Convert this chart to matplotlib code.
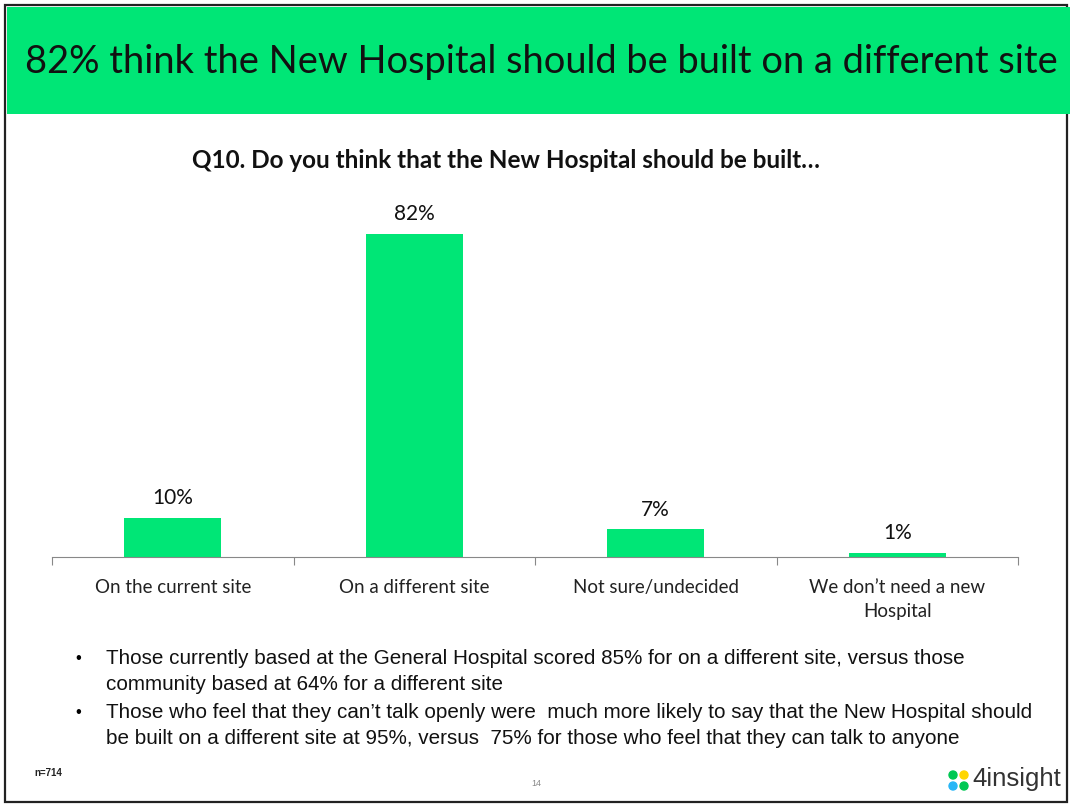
import matplotlib.pyplot as plt
from matplotlib.patches import Rectangle, Circle

categories = ["On the current site", "On a different site", "Not sure/undecided",
              "We don\u2019t need a new\nHospital"]
values = [10, 82, 7, 1]
value_labels = ["10%", "82%", "7%", "1%"]

headline = "82% think the New Hospital should be built on a different site"
question = "Q10. Do you think that the New Hospital should be built\u2026"
notes = [
    "Those currently based at the General Hospital scored 85% for on a different site, versus those\n"
    "community based at 64% for a different site",
    "Those who feel that they can\u2019t talk openly were  much more likely to say that the New Hospital should\n"
    "be built on a different site at 95%, versus  75% for those who feel that they can talk to anyone",
]

green = "#00E676"
W, H = 1070, 807

fig = plt.figure(figsize=(10.7, 8.07), dpi=100)
fig.patch.set_facecolor("white")

# slide frame and header band, in pixel-like figure coords
bg = fig.add_axes([0, 0, 1, 1])
bg.set_xlim(0, W)
bg.set_ylim(H, 0)
bg.axis("off")
bg.add_patch(Rectangle((5, 5), 1062, 797, fill=False, edgecolor="#222222", lw=1.6))
bg.add_patch(Rectangle((7, 7), 1063, 107, facecolor=green, edgecolor="none"))
bg.text(541, 62, headline, fontsize=27.4, family="Lato", ha="center", va="center",
        color="#111111")
bg.text(506, 161, question, fontsize=17.5, family="Lato", weight="bold",
        ha="center", va="center", color="#111111")

# bullet notes
y = 659
for note in notes:
    bg.text(75, y, "\u2022", fontsize=12, family="Liberation Sans", va="center")
    bg.text(106, y - 10, note, fontsize=14.9, family="Liberation Sans", va="top",
            linespacing=1.45, color="#111111")
    y += 54

# footer
bg.text(34, 773, "n=714", fontsize=7, weight="bold", family="Liberation Sans",
        va="center", color="#222222")
bg.text(536, 783, "14", fontsize=6.5, family="Liberation Sans", ha="center",
        va="center", color="#888888")
for (cx, cy), c in zip([(953, 775), (964, 775), (953, 786), (964, 786)],
                       ["#00C853", "#FFD600", "#29B6F6", "#00C853"]):
    bg.add_patch(Circle((cx, cy), 4, color=c))
bg.text(972, 779, "4insight", fontsize=18.5, family="Liberation Sans", va="center",
        color="#333333")

# bar chart
ax = fig.add_axes([52 / W, 1 - 557 / H, (1018 - 52) / W, (557 - 200) / H])
x = range(len(categories))
bars = ax.bar(x, values, width=0.4, color=green)
for b, lab in zip(bars, value_labels):
    ax.text(b.get_x() + b.get_width() / 2, b.get_height() + 2.5, lab, ha="center",
            va="bottom", fontsize=15, family="Lato", color="#111111")
ax.set_xlim(-0.5, len(categories) - 0.5)
ax.set_ylim(0, 90.6)
for s in ["top", "right", "left"]:
    ax.spines[s].set_visible(False)
ax.spines["bottom"].set_color("#888888")
ax.set_yticks([])
ax.set_xticks([i - 0.5 for i in range(len(categories) + 1)], minor=False)
ax.set_xticklabels([])
ax.tick_params(axis="x", length=6, color="#888888", direction="out")
ax.set_xticks(list(x), minor=True)
ax.set_xticklabels(categories, minor=True, fontsize=13.5, family="Lato",
                   color="#222222", linespacing=1.5)
ax.tick_params(axis="x", which="minor", length=0, pad=16)

fig.savefig("out.png", dpi=100)
